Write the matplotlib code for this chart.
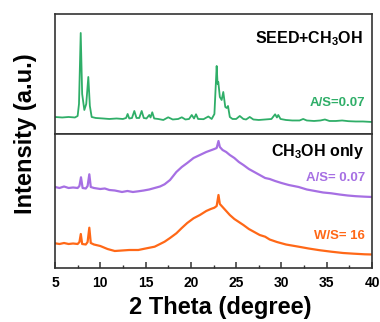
import matplotlib
matplotlib.use('Agg')
import matplotlib.pyplot as plt
from matplotlib.ticker import MultipleLocator

plt.rcParams['font.family'] = ['Liberation Sans', 'DejaVu Sans']
plt.rcParams['font.weight'] = 'bold'
plt.rcParams['mathtext.fontset'] = 'custom'
plt.rcParams['mathtext.rm'] = 'Liberation Sans:bold'
plt.rcParams['mathtext.bf'] = 'Liberation Sans:bold'
plt.rcParams['mathtext.default'] = 'bf'

# SEED + CH3OH pattern (top panel)
seed_2theta = [5.0, 5.8, 6.5, 7.2, 7.5, 7.65, 7.84, 8.0, 8.24, 8.45,
               8.68, 8.85, 9.05, 9.5, 10.3, 11.0, 11.8, 12.5, 12.85, 13.02,
               13.2, 13.5, 13.76, 14.0, 14.3, 14.57, 14.8, 15.1, 15.41, 15.55,
               15.74, 15.95, 16.4, 16.96, 17.5, 18.0, 18.6, 19.0, 19.4, 19.8,
               20.1, 20.35, 20.57, 20.8, 21.4, 21.93, 22.3, 22.6, 22.85, 22.95,
               23.03, 23.2, 23.4, 23.58, 23.8, 23.95, 24.1, 24.3, 24.6, 25.0,
               25.4, 25.8, 26.1, 26.5, 26.9, 27.5, 28.2, 28.9, 29.3, 29.5,
               29.65, 29.9, 30.5, 31.2, 32.0, 32.4, 32.8, 33.6, 34.3, 34.8,
               35.3, 36.0, 36.7, 37.4, 38.2, 39.0, 40.0]
seed_int = [17, 16.5, 17, 16.5, 18, 30, 101, 40, 24, 30,
            57, 28, 17, 16, 15.5, 15, 15.5, 15, 16, 20,
            15.5, 16, 23, 16, 16, 23, 16, 15.5, 19, 16.5,
            21.7, 15.5, 15, 14, 16.7, 14.5, 15, 16.7, 14.5, 15,
            19, 15.5, 19.7, 15, 14.8, 17.5, 15, 20, 68, 50,
            52, 37, 34, 42, 27, 26, 28, 17, 15, 15,
            18, 15, 14.5, 17, 14.5, 14, 14.5, 15, 19.7, 16.5,
            19, 15, 14, 13.5, 13.5, 15, 13.5, 13, 13.5, 14.5,
            13, 13, 13.5, 12.8, 12.5, 12.5, 12]

# CH3OH only, A/S = 0.07 (purple)
as_2theta = [5.0, 5.5, 6.0, 6.5, 7.0, 7.5, 7.7, 7.87, 8.05, 8.4,
             8.6, 8.79, 8.95, 9.3, 10.0, 10.5, 11.0, 11.6, 12.4, 13.0,
             13.6, 14.2, 14.8, 15.4, 16.0, 16.6, 17.1, 17.7, 18.4, 19.0,
             19.6, 20.3, 21.0, 21.7, 22.3, 22.6, 22.85, 23.05, 23.2, 23.5,
             23.9, 24.3, 24.8, 25.3, 25.8, 26.4, 27.0, 27.6, 28.2, 28.7,
             29.3, 30.0, 30.8, 31.9, 32.8, 33.7, 34.6, 35.5, 36.4, 37.3,
             38.2, 39.2, 40.0]
as_int = [81, 80, 81.5, 80, 80.5, 80, 82, 90.7, 80, 79.5,
          82, 93.7, 81, 80, 79, 79.5, 78, 77.5, 76, 77,
          76, 76.7, 77.5, 78.5, 80, 81.5, 83.7, 88, 96, 101,
          105, 110, 113, 116, 118, 119, 120, 127, 121, 118,
          116, 113, 110, 106, 103, 99, 96, 93, 90, 89,
          87, 85, 83, 81, 78.5, 77, 75.5, 74.7, 73.5, 72.5,
          71.8, 71.3, 71]

# CH3OH only, W/S = 16 (orange)
ws_2theta = [5.0, 5.5, 6.0, 6.5, 7.0, 7.5, 7.7, 7.85, 8.0, 8.4,
             8.6, 8.79, 8.95, 9.3, 10.0, 10.8, 11.6, 12.4, 13.2, 14.2,
             15.0, 16.0, 16.6, 17.1, 17.7, 18.4, 19.0, 19.6, 20.3, 21.0,
             21.7, 22.2, 22.6, 22.85, 23.05, 23.2, 23.5, 23.9, 24.3, 24.8,
             25.3, 25.8, 26.4, 27.0, 27.6, 28.2, 28.7, 29.5, 30.5, 31.9,
             33.0, 34.2, 35.5, 36.8, 38.0, 39.2, 40.0]
ws_int = [24.7, 24, 25, 24, 24.5, 24, 26, 34, 24, 23.5,
          26, 40.3, 25, 23.5, 22, 19, 17, 17.5, 18, 18,
          19.5, 21.3, 24, 26.3, 30, 34.7, 40, 45, 49.7, 53,
          57, 59, 60.3, 62, 73, 64, 61, 57, 53, 49,
          46, 43, 39, 36, 33, 31.3, 28.5, 26, 23.5, 21.3,
          19.5, 17.8, 16.3, 15, 14.3, 13.7, 13.5]

green = '#2fae68'
purple = '#a66fe3'
orange = '#ff6817'

fig = plt.figure(figsize=(3.8, 3.22), dpi=100)
ax_top = fig.add_axes([0.1447, 0.5839, 0.8343, 0.3727])
ax_bot = fig.add_axes([0.1447, 0.1677, 0.8343, 0.4162])

ax_top.plot(seed_2theta, seed_int, color=green, lw=1.3)
ax_bot.plot(as_2theta, as_int, color=purple, lw=1.6)
ax_bot.plot(ws_2theta, ws_int, color=orange, lw=1.6)

ax_top.set_ylim(0, 120)
ax_bot.set_ylim(0, 134)

for ax in (ax_top, ax_bot):
    ax.set_xlim(5, 40)
    ax.set_yticks([])
    for sp in ax.spines.values():
        sp.set_linewidth(1.2)
        sp.set_color('#333333')

ax_top.tick_params(axis='x', which='both', bottom=False, labelbottom=False)
ax_bot.xaxis.set_major_locator(MultipleLocator(5))
ax_bot.xaxis.set_minor_locator(MultipleLocator(2.5))
ax_bot.tick_params(axis='x', which='major', direction='in', length=4, width=1.1,
                   labelsize=10, pad=6, color='#333333')
ax_bot.tick_params(axis='x', which='minor', direction='in', length=2.5, width=1.0,
                   color='#333333')

ax_top.text(0.972, 0.758, r'SEED+CH$_3$OH', transform=ax_top.transAxes,
            ha='right', va='baseline', fontsize=11.5, fontweight='bold')
ax_top.text(0.978, 0.233, 'A/S=0.07', transform=ax_top.transAxes,
            ha='right', va='baseline', fontsize=9.5, fontweight='bold', color=green)
ax_bot.text(0.975, 0.838, r'CH$_3$OH only', transform=ax_bot.transAxes,
            ha='right', va='baseline', fontsize=11.5, fontweight='bold')
ax_bot.text(0.978, 0.649, 'A/S= 0.07', transform=ax_bot.transAxes,
            ha='right', va='baseline', fontsize=9.5, fontweight='bold', color=purple)
ax_bot.text(0.978, 0.214, 'W/S= 16', transform=ax_bot.transAxes,
            ha='right', va='baseline', fontsize=9.5, fontweight='bold', color=orange)

fig.text(0.068, 0.585, 'Intensity (a.u.)', rotation=90, ha='center', va='center',
         fontsize=17, fontweight='bold')
fig.text(0.579, 0.0435, '2 Theta (degree)', ha='center', va='center',
         fontsize=17, fontweight='bold')

fig.savefig('out.png', dpi=100)
